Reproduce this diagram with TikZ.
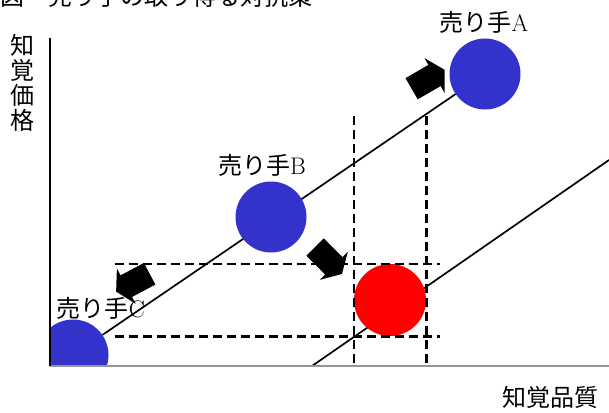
\documentclass[tikz,border=0pt]{standalone}
\usepackage{fontspec}
\usepackage{tikz}
\usetikzlibrary{shapes.arrows}
\newfontfamily\jp{Noto Sans CJK JP}
\definecolor{sellerBlue}{RGB}{51, 51, 204}
\definecolor{rivalRed}{RGB}{255, 0, 0}
\definecolor{axisGray}{RGB}{150, 150, 150}

\begin{document}
\begin{tikzpicture}[x=1pt, y=-1pt,
    seller/.style={circle, fill=sellerBlue, minimum size=71pt, inner sep=0pt},
    fatarrow/.style={single arrow, fill=black, minimum height=38pt, minimum width=40pt,
      inner xsep=0pt, inner ysep=11pt, single arrow tip angle=120},
    lbl/.style={font=\fontsize{24}{25}\selectfont, inner sep=0pt},
    guide/.style={line width=2.6pt, dash pattern=on 9pt off 5pt}]
    \useasboundingbox (0,0) rectangle (609,412);
    \node[lbl, anchor=base west] (title) at (0,6) {\jp 図　売り手の取り得る対抗策};
    \node[lbl] (labA) at (484,22) {{\jp 売り手}A};
    \node[lbl] (labB) at (262,165) {{\jp 売り手}B};
    \node[lbl] (labC) at (101,308) {{\jp 売り手}C};
    \node[lbl, align=center] (ylab) at (22,83) {\jp 知\\\jp 覚\\\jp 価\\\jp 格};
    \node[lbl] (xlab) at (550,397) {\jp 知覚品質};
    \node[seller] (A) at (485,74) {};
    \begin{scope}
      \clip (50,0) rectangle (609,366);
      \node[seller] (C) at (73,355) {};
    \end{scope}
    \draw[line width=1.7pt] (C) -- (A);
    \node[seller] (B) at (271,217) {};
    \coordinate (q0) at (312,366);
    \coordinate (q1) at (609,160);
    \draw[line width=1.7pt] (q0) -- (q1);
    \node[circle, fill=rivalRed, minimum size=72pt, inner sep=0pt] (P) at (390,300) {};
    \coordinate (gtop) at (0,116);
    \coordinate (gbot) at (0,366);
    \coordinate (gleft) at (115,0);
    \coordinate (gright) at (440,0);
    \draw[guide] (P.west |- gtop) -- (P.west |- gbot);
    \draw[guide] (P.east |- gtop) -- (P.east |- gbot);
    \draw[guide] (gleft |- P.north) -- (gright |- P.north);
    \draw[guide] (gleft |- P.south) -- (gright |- P.south);
    \node[fatarrow, rotate=30] (toA) at (425,81) {};
    \node[fatarrow, rotate=-45] (toP) at (326,258) {};
    \node[fatarrow, rotate=208] (toC) at (136,281) {};
    \coordinate (O) at (50,366);
    \coordinate (ytop) at (50,38);
    \coordinate (xend) at (609,366);
    \draw[axisGray, line width=2.2pt] (O) -- (xend);
    \draw[line width=2pt] (ytop) -- (O);
  \end{tikzpicture}
\end{document}
